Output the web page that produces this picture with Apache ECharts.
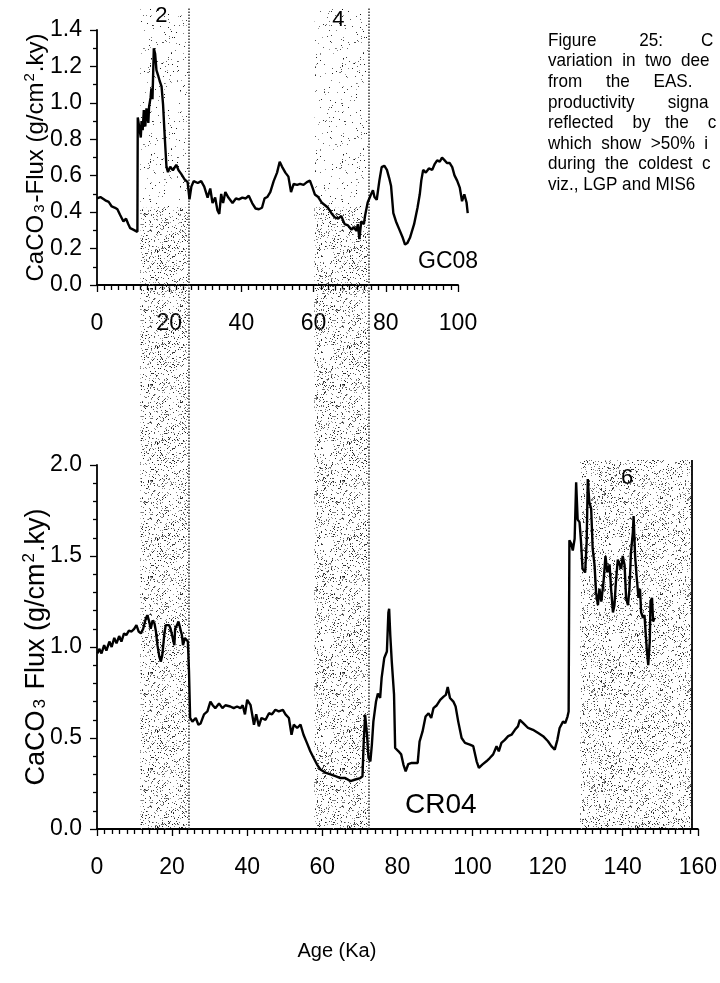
<!DOCTYPE html>
<html>
<head>
<meta charset="utf-8">
<script src="https://cdn.jsdelivr.net/npm/echarts@6/dist/echarts.min.js"></script>
<style>
  html, body { margin: 0; padding: 0; background: #fff; }
  #chart { width: 720px; height: 983px; }
</style>
</head>
<body>
<div id="chart"></div>
<script>
// GC08 core: [age (ka), CaCO3 flux (g/cm2.ky)]
const gc08 = [
  [0,0.476],[0.94,0.483],[2.3,0.465],[3.24,0.456],[4.08,0.431],[5.02,0.424],[5.65,0.416],[6.38,0.386],
  [7.32,0.349],[8.05,0.364],[8.68,0.334],[9.2,0.312],[10.04,0.304],[11.19,0.292],[11.29,0.92],[11.71,0.915],
  [12.13,0.81],[12.34,0.90],[12.65,0.85],[12.97,0.96],[13.38,0.87],[13.7,0.97],[14.22,0.89],[14.43,0.98],
  [14.85,1.03],[15.06,1.08],[15.37,1.02],[15.74,1.30],[16.1,1.27],[16.47,1.18],[16.94,1.15],[17.36,1.12],
  [17.88,1.09],[18.3,0.99],[18.72,0.83],[19.24,0.65],[19.66,0.62],[20.29,0.65],[21.02,0.63],[21.96,0.66],
  [22.59,0.63],[23.32,0.61],[24.26,0.58],[25.1,0.565],[25.62,0.47],[26.14,0.54],[26.77,0.57],[27.92,0.56],
  [28.86,0.57],[29.7,0.54],[30.64,0.48],[31.37,0.53],[32.0,0.45],[32.73,0.48],[33.36,0.41],[33.88,0.39],
  [34.4,0.50],[34.93,0.45],[35.55,0.51],[36.39,0.48],[37.54,0.45],[38.48,0.475],[39.32,0.47],[40.26,0.48],
  [41.2,0.475],[42.04,0.49],[42.98,0.45],[43.92,0.42],[44.86,0.416],[45.7,0.424],[46.43,0.476],[47.16,0.483],
  [48.0,0.51],[48.94,0.57],[49.88,0.617],[50.61,0.677],[51.24,0.65],[52.18,0.617],[53.02,0.595],[53.75,0.51],
  [54.48,0.555],[55.42,0.55],[56.26,0.555],[57.2,0.55],[58.14,0.565],[58.98,0.573],[59.6,0.54],[60.34,0.497],
  [61.28,0.483],[62.22,0.453],[63.16,0.438],[64.0,0.424],[64.94,0.394],[65.88,0.371],[66.82,0.364],[67.66,0.379],
  [68.6,0.334],[69.54,0.327],[70.48,0.304],[71.11,0.319],[71.84,0.297],[72.26,0.334],[72.68,0.252],[73.2,0.349],
  [73.93,0.334],[74.24,0.379],[74.98,0.453],[75.92,0.498],[76.44,0.52],[76.86,0.483],[77.49,0.468],[78.22,0.573],
  [78.85,0.647],[79.58,0.655],[80.31,0.632],[80.94,0.587],[81.46,0.543],[82.09,0.394],[82.82,0.349],[83.76,0.304],
  [84.7,0.259],[85.33,0.222],[85.96,0.23],[86.69,0.259],[87.84,0.334],[88.78,0.424],[89.41,0.498],[89.83,0.573],
  [90.35,0.632],[91.08,0.617],[91.92,0.64],[92.86,0.632],[93.49,0.662],[94.22,0.684],[94.95,0.677],[95.58,0.699],
  [96.31,0.684],[96.94,0.67],[97.67,0.67],[98.4,0.647],[99.03,0.602],[99.76,0.573],[100.49,0.535],[101.12,0.46],
  [101.75,0.498],[102.37,0.453],[102.69,0.394]
];

// CR04 core: [age (ka), CaCO3 flux (g/cm2.ky)]
const cr04 = [
  [0.17,0.965],[0.6,0.99],[1.2,0.965],[1.9,1.01],[2.5,0.98],[3.3,1.03],[3.9,1.0],[4.6,1.05],[5.2,1.02],
  [5.9,1.06],[6.5,1.03],[7.2,1.075],[7.8,1.065],[8.5,1.09],[9.2,1.085],[9.9,1.10],[10.5,1.12],[11.1,1.085],
  [11.7,1.075],[12.3,1.10],[13.0,1.157],[13.4,1.175],[13.9,1.14],[14.3,1.10],[14.8,1.146],[15.3,1.13],
  [15.7,1.085],[16.1,1.01],[16.6,0.947],[17.0,0.92],[17.4,0.956],[17.9,1.066],[18.3,1.12],[18.7,1.11],
  [19.2,1.12],[19.6,1.10],[20.0,1.09],[20.6,1.01],[20.8,1.10],[21.3,1.12],[21.7,1.14],[22.1,1.13],
  [22.6,1.066],[22.9,1.01],[23.4,1.05],[23.8,1.04],[24.2,1.03],[24.5,0.865],[24.8,0.61],[25.4,0.59],
  [26.3,0.61],[27.0,0.573],[27.6,0.58],[28.5,0.63],[29.4,0.646],[30.2,0.70],[30.8,0.68],[31.5,0.664],
  [32.5,0.69],[33.4,0.664],[34.2,0.68],[35.5,0.673],[36.4,0.664],[37.3,0.673],[38.2,0.664],[38.8,0.68],
  [39.4,0.63],[40.0,0.71],[40.9,0.68],[41.8,0.573],[42.4,0.63],[43.1,0.564],[43.8,0.61],[44.9,0.60],
  [45.8,0.636],[46.6,0.63],[47.5,0.655],[48.4,0.646],[49.5,0.655],[50.2,0.63],[51.1,0.61],[51.8,0.518],
  [52.4,0.573],[53.3,0.555],[54.2,0.573],[55.0,0.518],[55.9,0.473],[56.8,0.427],[57.7,0.39],[58.6,0.354],
  [59.5,0.327],[60.8,0.31],[62.2,0.30],[63.5,0.29],[64.8,0.28],[66.1,0.28],[67.5,0.263],[68.8,0.272],
  [70.1,0.28],[70.7,0.29],[71.0,0.464],[71.4,0.628],[71.9,0.518],[72.3,0.39],[72.8,0.372],[73.2,0.464],
  [73.6,0.59],[74.3,0.70],[74.8,0.745],[75.4,0.72],[75.8,0.83],[76.5,0.94],[77.2,0.975],[77.6,1.19],
  [77.8,1.21],[78.1,1.066],[78.5,0.92],[79.1,0.74],[79.4,0.445],[80.3,0.427],[81.0,0.41],[81.6,0.354],
  [82.2,0.317],[82.9,0.357],[83.8,0.363],[84.7,0.363],[85.4,0.363],[85.9,0.48],[86.7,0.536],[87.5,0.618],
  [88.3,0.636],[89.0,0.61],[89.6,0.664],[90.5,0.68],[91.4,0.71],[92.3,0.727],[92.9,0.737],[93.4,0.78],
  [94.0,0.72],[94.9,0.70],[95.5,0.673],[96.2,0.59],[97.1,0.50],[98.0,0.473],[99.3,0.464],[100.2,0.455],
  [101.1,0.372],[101.7,0.336],[102.6,0.354],[103.7,0.372],[104.6,0.39],[105.5,0.41],[106.4,0.455],
  [107.0,0.427],[107.7,0.473],[108.6,0.49],[109.5,0.51],[110.4,0.518],[111.3,0.545],[112.1,0.564],
  [112.6,0.60],[113.5,0.582],[114.8,0.555],[116.1,0.545],[117.5,0.527],[118.8,0.51],[120.1,0.482],
  [121.0,0.455],[121.9,0.436],[122.6,0.49],[123.2,0.555],[124.1,0.59],[124.7,0.582],[125.3,0.618],
  [125.6,0.646],[125.8,1.586],[126.3,1.567],[126.7,1.53],[127.2,1.595],[127.6,1.905],[128.0,1.70],
  [128.5,1.686],[128.9,1.577],[129.3,1.43],[130.0,1.41],[130.4,1.577],[130.7,1.923],[131.1,1.796],
  [131.6,1.76],[132.0,1.54],[132.5,1.45],[132.9,1.30],[133.4,1.23],[133.8,1.32],[134.3,1.25],[134.9,1.36],
  [135.4,1.50],[135.9,1.41],[136.5,1.45],[136.9,1.32],[137.4,1.19],[137.8,1.23],[138.2,1.36],[138.7,1.48],
  [139.1,1.47],[139.6,1.43],[140.0,1.50],[140.5,1.45],[140.9,1.27],[141.4,1.23],[141.8,1.32],[142.2,1.52],
  [142.7,1.63],[142.9,1.72],[143.3,1.50],[143.7,1.39],[144.2,1.27],[144.6,1.32],[144.9,1.19],[145.4,1.16],
  [145.8,1.175],[146.1,1.08],[146.4,0.99],[146.8,0.90],[147.2,1.03],[147.4,1.25],[147.8,1.27],[148.1,1.14],
  [148.5,1.16]
];

// Glacial marine isotope stages (cold intervals), ages in ka on the CR04 age scale
const misLabels = ['2', '4', '6'];
const misStart  = [11.5, 57.6, 128.0];
const misEnd    = [24.2, 71.9, 157.6];
// vertical reach of each band as a fraction of the column height
const misTop    = [0.99, 0.99, 0.445];

// Axis ticks
const topAgeMax = 100, bottomAgeMax = 160, ageStep = 20;
const topFluxMax = 1.4, topFluxStep = 0.2;
const bottomFluxMax = 2.0, bottomFluxStep = 0.5;
// the GC08 record runs a little past the last labelled age
const topAgeReach = 110;

// caption beside the upper panel (justified column, clipped at the page edge)
const captionLines = [
  'Figure         25:        C',
  'variation  in  two  dee',
  'from     the     EAS.',
  'productivity       signa',
  'reflected    by   the    c',
  'which  show  >50%  i',
  'during  the  coldest  c',
  'viz., LGP and MIS6'
];

// stippled fill used for the glacial bands
function stipple(size, density, seed) {
  const c = document.createElement('canvas');
  c.width = c.height = size;
  const ctx = c.getContext('2d');
  let s = seed >>> 0;
  const next = () => (s = (Math.imul(s, 1664525) + 1013904223) >>> 0) / 4294967296;
  const n = Math.round(size * size * density);
  for (let i = 0; i < n; i++) {
    const x = Math.floor(next() * size), y = Math.floor(next() * size);
    const g = 20 + Math.floor(next() * 150);
    ctx.fillStyle = 'rgb(' + g + ',' + g + ',' + g + ')';
    ctx.fillRect(x, y, 1, 1);
  }
  return c;
}
const denseDots = stipple(96, 0.14, 12345);
const sparseDots = stipple(96, 0.03, 777);

const FONT = 'Liberation Sans, Arial, sans-serif';
const chart = echarts.init(document.getElementById('chart'), null, { renderer: 'canvas' });

const axisLine = { show: true, lineStyle: { color: '#000', width: 1.8 } };
const tickStyle = { color: '#000', width: 1.3 };
const axisLabel = { color: '#000', fontFamily: FONT, fontSize: 23 };

function bandAreas(dense) {
  return misLabels.map((lab, i) => {
    if (!dense && i === 2) return null;
    const lower = dense ? 0 : 0.75;
    const upper = dense ? (i < 2 ? 0.75 : misTop[i]) : misTop[i];
    return [
      { xAxis: misStart[i], yAxis: lower, name: lab },
      { xAxis: misEnd[i], yAxis: upper }
    ];
  }).filter(Boolean);
}

function fluxName(sep, size) {
  return {
    text: '{a|CaCO}{s|3}{a|' + sep + 'Flux (g/cm}{p|2}{a|.ky)}',
    style: {
      color: '#000', fontFamily: FONT, fontSize: size,
      rich: {
        a: { fontFamily: FONT, fontSize: size, color: '#000', lineHeight: size + 4 },
        s: { fontFamily: FONT, fontSize: Math.round(size * 0.62), color: '#000', lineHeight: size + 4,
             verticalAlign: 'middle', padding: [Math.round(size * 0.3), 2, 0, 2] },
        p: { fontFamily: FONT, fontSize: Math.round(size * 0.62), color: '#000', lineHeight: size + 4,
             verticalAlign: 'top', padding: [0, 1, 0, 1] }
      }
    }
  };
}
const topName = fluxName('-', 24);
const bottomName = fluxName(' ', 27);

const TOP_W = 361;

const option = {
  animation: false,
  backgroundColor: '#fff',
  grid: [
    { left: 97, top: 30, width: TOP_W, height: 255 },
    { left: 97, top: 465, width: 604, height: 364 },
    { left: 97, top: 0, width: 604, height: 829 },
    // same scale as the upper panel, wide enough for the whole GC08 record
    { left: 97, top: 30, width: TOP_W * topAgeReach / topAgeMax, height: 255 }
  ],
  xAxis: [
    {
      gridIndex: 0, type: 'value', min: 0, max: topAgeMax, interval: ageStep,
      axisLine, axisTick: { show: true, length: 7, lineStyle: tickStyle },
      minorTick: { show: true, splitNumber: 10, length: 5, lineStyle: tickStyle },
      axisLabel: Object.assign({ margin: 27 }, axisLabel), splitLine: { show: false }
    },
    {
      gridIndex: 1, type: 'value', min: 0, max: bottomAgeMax, interval: ageStep,
      axisLine, axisTick: { show: true, length: 7, lineStyle: tickStyle },
      minorTick: { show: true, splitNumber: 10, length: 5, lineStyle: tickStyle },
      axisLabel: Object.assign({ margin: 27 }, axisLabel), splitLine: { show: false },
      name: 'Age (Ka)', nameLocation: 'middle', nameGap: 112, nameMoveOverlap: false,
      nameTextStyle: { color: '#000', fontFamily: FONT, fontSize: 20, padding: [0, 121, 0, 0] }
    },
    { gridIndex: 2, type: 'value', min: 0, max: bottomAgeMax, show: false },
    { gridIndex: 3, type: 'value', min: 0, max: topAgeReach, show: false }
  ],
  yAxis: [
    {
      gridIndex: 0, type: 'value', min: 0, max: topFluxMax, interval: topFluxStep,
      axisLine, axisTick: { show: true, length: 7, lineStyle: tickStyle },
      minorTick: { show: true, splitNumber: 2, length: 4, lineStyle: tickStyle },
      axisLabel: Object.assign({ margin: 15, formatter: v => v.toFixed(1) }, axisLabel),
      splitLine: { show: false },
      name: topName.text, nameLocation: 'middle', nameGap: 47, nameRotate: 90, nameMoveOverlap: false,
      nameTextStyle: topName.style
    },
    {
      gridIndex: 1, type: 'value', min: 0, max: bottomFluxMax, interval: bottomFluxStep,
      axisLine, axisTick: { show: true, length: 7, lineStyle: tickStyle },
      minorTick: { show: true, splitNumber: 5, length: 4, lineStyle: tickStyle },
      axisLabel: Object.assign({ margin: 15, formatter: v => v.toFixed(1) }, axisLabel),
      splitLine: { show: false },
      name: bottomName.text, nameLocation: 'middle', nameGap: 45, nameRotate: 90, nameMoveOverlap: false,
      nameTextStyle: bottomName.style
    },
    { gridIndex: 2, type: 'value', min: 0, max: 1, show: false },
    { gridIndex: 3, type: 'value', min: 0, max: topFluxMax, show: false }
  ],
  series: [
    {
      // dense stipple of the glacial bands
      type: 'line', xAxisIndex: 2, yAxisIndex: 2, data: [], z: 1, silent: true,
      markArea: {
        silent: true,
        itemStyle: { color: { image: denseDots, repeat: 'repeat' }, borderWidth: 0 },
        label: { show: false },
        data: bandAreas(true)
      }
    },
    {
      // lighter stipple high in the column
      type: 'line', xAxisIndex: 2, yAxisIndex: 2, data: [], z: 1, silent: true,
      markArea: {
        silent: true,
        itemStyle: { color: { image: sparseDots, repeat: 'repeat' }, borderWidth: 0 },
        label: { show: false },
        data: bandAreas(false)
      }
    },
    {
      // stage numbers and band edges
      type: 'line', xAxisIndex: 2, yAxisIndex: 2, data: [], z: 2, silent: true,
      markPoint: {
        symbol: 'circle', symbolSize: 0,
        label: { show: true, color: '#000', fontFamily: FONT, fontSize: 22, formatter: p => p.name },
        data: misLabels.map((lab, i) => ({
          name: lab,
          coord: [(misStart[i] + misEnd[i]) / 2, misTop[i]],
          label: { offset: [i === 2 ? -9 : -3, i === 0 ? 8 : (i === 1 ? 12 : 18)] }
        }))
      },
      markLine: {
        silent: true, symbol: 'none',
        label: { show: false },
        data: misLabels.map((lab, i) => [
          { coord: [misEnd[i], 0], lineStyle: { type: i < 2 ? 'dotted' : 'solid', color: i < 2 ? '#333' : '#000', width: i < 2 ? 1.5 : 1.8 } },
          { coord: [misEnd[i], misTop[i]] }
        ])
      }
    },
    {
      name: 'GC08', type: 'line', xAxisIndex: 3, yAxisIndex: 3, data: gc08, z: 5,
      showSymbol: false,
      lineStyle: { color: '#000', width: 2.4 }
    },
    {
      name: 'CR04', type: 'line', xAxisIndex: 1, yAxisIndex: 1, data: cr04, z: 5,
      showSymbol: false,
      lineStyle: { color: '#000', width: 2.4 }
    }
  ],
  graphic: [
    { type: 'text', left: 418, top: 250, style: { text: 'GC08', fill: '#000', font: '23px ' + FONT } },
    { type: 'text', left: 405, top: 791, style: { text: 'CR04', fill: '#000', font: '28px ' + FONT } }
  ].concat(captionLines.map((t, i) => ({
    type: 'text', x: 548, y: 31 + i * 20.6, scaleX: 0.9,
    style: { text: t, fill: '#000', font: '19px ' + FONT }
  })))
};

chart.setOption(option);
</script>
</body>
</html>
